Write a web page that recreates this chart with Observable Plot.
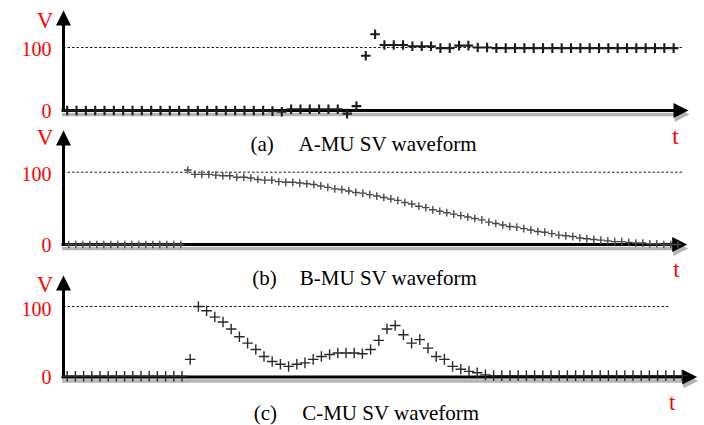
<!DOCTYPE html>
<html><head><meta charset="utf-8">
<script src="https://cdn.jsdelivr.net/npm/d3@7"></script>
<script src="https://cdn.jsdelivr.net/npm/@observablehq/plot@0.6"></script>
<style>
body{margin:0;background:#fff;}
#chart{position:relative;width:704px;height:425px;overflow:hidden;background:#fff;}
#chart svg{position:absolute;left:0;top:0;}
</style></head><body><div id="chart"></div>
<script>
// ---- data ----
const yTicks = [0, 100];
const aValues = [0,0,0,0,0,0,0,0,0,0,0,0,0,0,0,0,0,0,0,0,0,0,
  -1,-2,2,2,2,2,2,2,-5,7,
  87,121,104,104,104,102,102,102,99,99,103,103,100,100,
  99,99,99,99,99,99,99,99,99,99,99,99,99,99,99,99,99,99,99,99];
const bValues = [0,0,0,0,0,0,0,0,0,0,0,0,0,0,0,0,0,
  103,97,97,97,96,95,95,93,93,92,90,89,89,87,86,86,85,84,83,81,79,77,76,74,72,71,69,67,
  65,63,61,58,56,53,51,48,46,44,42,40,38,36,34,31,29,27,25,24,22,20,18,17,15,13,12,11,
  9,8,7,6,5,4,4,3,2,2,1,1,0,0,0];
const cValues = [1,1,1,1,1,1,1,1,1,1,1,1,1,1,1,
  25,100,94,85,78,68,57,48,39,29,22,18,15,18,20,25,29,32,34,34,34,33,39,52,68,73,60,48,53,41,29,25,15,11,8,6,3,
  2,2,2,2,2,2,2,2,2,2,2,2,2,2,2,2,2,2,2,2,2,2,2,2];
const captionLetters = ["(a)", "(b)", "(c)"];
const captionTexts = ["A-MU SV waveform", "B-MU SV waveform", "C-MU SV waveform"];
const axisLabelY = "V";
const axisLabelX = "t";

// ---- layout (pixel geometry of each panel) ----
const serif = "Liberation Serif, Times New Roman, serif";
const panels = [
  {values: aValues, axisX: 63, tipX: 688, dotEndX: 682, firstX: 66.7, step: 9.33, zeroY: 110, hundredY: 47, tipY: 10,
   marker: {r: 3.2, strokeWidth: 2.1, stroke: "#1c1c1c"}, vdx: -18.5, vdy: 17, tdx: -13, tdy: 33, hdy: 2,
   capX: 250, capX2: 298, capY: 150},
  {values: bValues, axisX: 63, tipX: 686.7, dotEndX: 682, firstX: 68.3, step: 7.0, zeroY: 244, hundredY: 171.7, tipY: 130,
   marker: {r: 2.6, strokeWidth: 1.4, stroke: "#4a4a4a"}, vdx: -18.5, vdy: 14, tdx: -10.7, tdy: 32, hdy: 2.5,
   capX: 251.7, capX2: 299.3, capY: 284},
  {values: cValues, axisX: 63, tipX: 696.7, dotEndX: 670, firstX: 66.7, step: 8.2, zeroY: 376.5, hundredY: 306, tipY: 275,
   marker: {r: 3.5, strokeWidth: 1.4, stroke: "#2a2a2a"}, vdx: -18.5, vdy: 16, tdx: -25, tdy: 33, hdy: 3.5,
   capX: 253.3, capX2: 301.7, capY: 419.5}
];

const arrowUp = {draw(ctx, size) { const r = Math.sqrt(size / Math.PI); ctx.moveTo(0, 0); ctx.lineTo(-r, 2 * r); ctx.lineTo(r, 2 * r); ctx.closePath(); }};
const arrowRight = {draw(ctx, size) { const r = Math.sqrt(size / Math.PI); ctx.moveTo(0, 0); ctx.lineTo(-2 * r, -r); ctx.lineTo(-2 * r, r); ctx.closePath(); }};

const chart = document.getElementById("chart");
panels.forEach((p, k) => {
  const xs = d3.scaleLinear().domain([0, 1]).range([p.firstX, p.firstX + p.step]);
  const X = px => xs.invert(px);
  const ys = d3.scaleLinear().domain([0, 100]).range([p.zeroY, p.hundredY]);
  const Y = px => ys.invert(px);
  const data = p.values.map((v, i) => ({i, v}));
  const tickStyle = {x: X(p.axisX), y: d => d, text: d => String(d), dx: -12,
    textAnchor: "end", fill: "#ff0000", fontSize: 20, fontFamily: serif};
  const plot = Plot.plot({
    width: 704, height: 425, margin: 0,
    style: {background: "transparent", fontFamily: serif, overflow: "visible"},
    x: {domain: [X(p.axisX), X(p.tipX)], range: [p.axisX, p.tipX], axis: null},
    y: {domain: [0, 100], range: [p.zeroY, p.hundredY], axis: null},
    marks: [
      Plot.ruleY([100], {x1: X(p.axisX), x2: X(p.dotEndX), stroke: "#000", strokeWidth: 0.9, strokeDasharray: "2.5,2"}),
      Plot.ruleY([0], {x1: X(p.axisX - 1), x2: X(p.tipX - 12), dy: 4, stroke: "#b4b4b4", strokeWidth: 3.5}),
      Plot.dot([0], {x: X(p.tipX), y: 0, dy: 4, dx: 1, symbol: arrowRight, r: 7.5, fill: "#b4b4b4", stroke: "none"}),
      Plot.ruleY([0], {x1: X(p.axisX - 1.5), x2: X(p.tipX - 12), stroke: "#000", strokeWidth: 3}),
      Plot.dot([0], {x: X(p.tipX), y: 0, symbol: arrowRight, r: 7.5, fill: "#000", stroke: "none"}),
      Plot.ruleX([X(p.axisX)], {y1: Y(p.zeroY + 1.5), y2: Y(p.tipY + 12), stroke: "#000", strokeWidth: 3}),
      Plot.dot([0], {x: X(p.axisX), y: Y(p.tipY), symbol: arrowUp, r: 7.5, fill: "#000", stroke: "none"}),
      Plot.dot(data, {x: "i", y: "v", symbol: "plus", r: p.marker.r, stroke: p.marker.stroke, strokeWidth: p.marker.strokeWidth}),
      Plot.text(yTicks.filter(d => d === 100), {...tickStyle, dy: p.hdy}),
      Plot.text(yTicks.filter(d => d === 0), {...tickStyle, dy: 1}),
      Plot.text([axisLabelY], {x: X(p.axisX), y: Y(p.tipY), text: d => d, dx: p.vdx, dy: p.vdy, lineAnchor: "bottom",
        textAnchor: "middle", fill: "#ff0000", fontSize: 23, fontFamily: serif}),
      Plot.text([axisLabelX], {x: X(p.tipX), y: 0, text: d => d, dx: p.tdx, dy: p.tdy, lineAnchor: "bottom",
        textAnchor: "middle", fill: "#ff0000", fontSize: 23, fontFamily: serif}),
      Plot.text([captionLetters[k]], {frameAnchor: "top-left", text: d => d, dx: p.capX, dy: p.capY, lineAnchor: "bottom",
        textAnchor: "start", fill: "#000", fontSize: 21, fontFamily: serif}),
      Plot.text([captionTexts[k]], {frameAnchor: "top-left", text: d => d, dx: p.capX2, dy: p.capY, lineAnchor: "bottom",
        textAnchor: "start", fill: "#000", fontSize: 21, fontFamily: serif})
    ]
  });
  chart.appendChild(plot);
});
</script></body></html>
